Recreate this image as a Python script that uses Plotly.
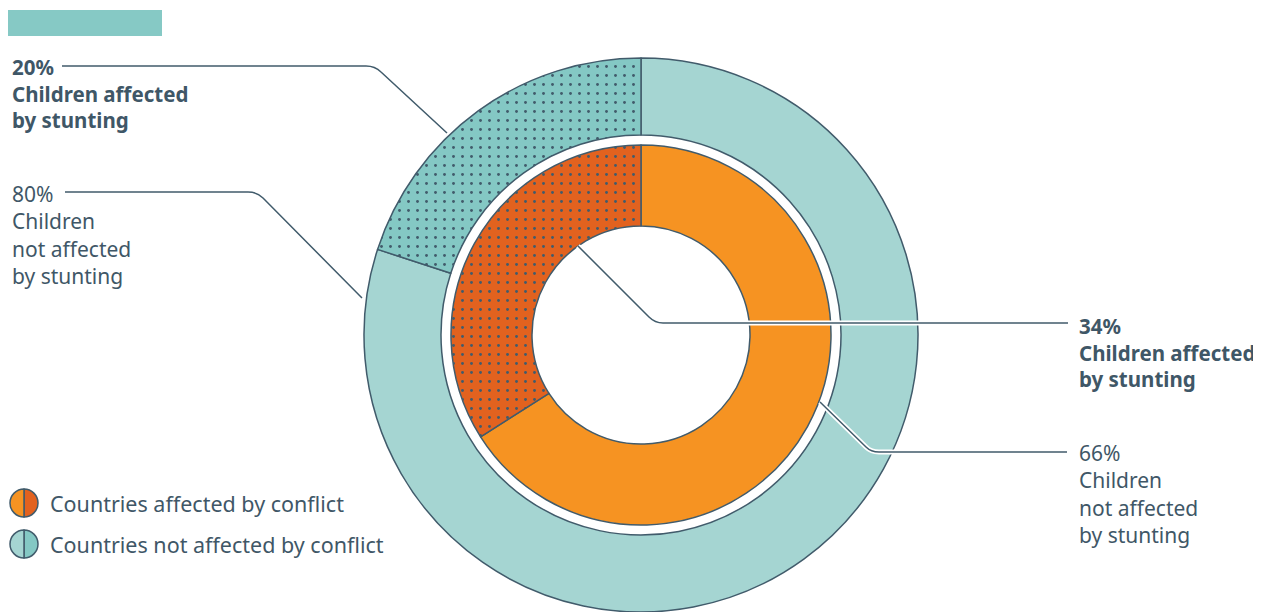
import plotly.graph_objects as go

# page body has an 8px margin, so the figure is drawn 8px in from the window edge
OFF = 8
W, H = 1261 - OFF, 612 - OFF

# data
stunting_labels = ["Children affected by stunting", "Children not affected by stunting"]
not_conflict_values = [20, 80]   # outer ring
conflict_values     = [34, 66]   # inner ring
legend_labels = ["Countries affected by conflict", "Countries not affected by conflict"]

INK       = "#415b6b"
TEXT      = "#3f5767"
TEAL_LT   = "#a5d5d2"
TEAL_DK   = "#84c8c4"
ORANGE    = "#f69322"
ORANGE_DK = "#e2621f"
FONT = "Noto Sans"


def px(x):
    return (x - OFF) / W


def py(y):
    return 1 - (y - OFF) / H


def dom(cx, cy, r):
    return dict(x=[px(cx - r), px(cx + r)], y=[py(cy + r), py(cy - r)])


def pct_label(v, label, bold):
    head, tail = label.split(" by ")
    if "not" in head:
        lines = [f"{v}%", "Children", "not affected", "by " + tail]
    else:
        lines = [f"{v}%", head, "by " + tail]
    txt = "<br>".join(lines)
    return f"<b>{txt}</b>" if bold else txt


def ring(values, colors, hole, r):
    # first slice (the stunted share) sits to the left of 12 o'clock
    return go.Pie(
        values=values[::-1], labels=stunting_labels[::-1],
        sort=False, direction="clockwise", rotation=0,
        hole=hole, textinfo="none", showlegend=False,
        domain=dom(CX, CY, r),
        marker=dict(
            colors=colors[::-1],
            line=dict(color=INK, width=1.5),
            pattern=dict(shape=["", "."], fgcolor=INK, bgcolor=colors[::-1],
                         size=9, solidity=0.08),
        ),
    )


CX, CY = 641, 335

fig = go.Figure()
fig.add_trace(ring(not_conflict_values, [TEAL_DK, TEAL_LT], 200 / 277, 277))
fig.add_trace(ring(conflict_values, [ORANGE_DK, ORANGE], 109 / 190, 190))

# legend swatches: half light / half dark circles
for (cy, light, dark) in [(503, ORANGE, ORANGE_DK), (544, TEAL_LT, TEAL_DK)]:
    fig.add_trace(go.Pie(
        values=[1, 1], sort=False, direction="clockwise", rotation=0,
        textinfo="none", showlegend=False, hoverinfo="skip",
        domain=dom(24, cy, 14),
        marker=dict(colors=[dark, light], line=dict(color=INK, width=1.5)),
    ))

# leader lines (pixel paths -> paper)
leaders = [
    [(62, 66), (366, 66), (375, 66), (381, 72), (447, 133)],
    [(65, 192), (248, 192), (257, 192), (263, 198), (362, 298)],
    [(578, 246), (649, 317), (655, 323), (663, 323), (1068, 323)],
    [(820, 402), (866, 447), (871, 452), (879, 452), (1067, 452)],
]

for pts in leaders:
    p = [(px(x), py(y)) for x, y in pts]
    path = (f"M {p[0][0]},{p[0][1]} L {p[1][0]},{p[1][1]} "
            f"Q {p[2][0]},{p[2][1]} {p[3][0]},{p[3][1]} L {p[4][0]},{p[4][1]}")
    fig.add_shape(type="path", path=path, xref="paper", yref="paper",
                  line=dict(color="white", width=5), layer="above")
    fig.add_shape(type="path", path=path, xref="paper", yref="paper",
                  line=dict(color=INK, width=1.5), layer="above")

# header bar
fig.add_shape(type="rect", xref="paper", yref="paper",
              x0=px(7), x1=px(162), y0=py(36), y1=py(10),
              fillcolor="#86c9c5", line=dict(width=0), layer="above")

labels = [
    (10, 94, not_conflict_values[0], stunting_labels[0], True),
    (10, 234.5, not_conflict_values[1], stunting_labels[1], False),
    (1077, 352.5, conflict_values[0], stunting_labels[0], True),
    (1077, 494, conflict_values[1], stunting_labels[1], False),
]
for x, y, v, lab, bold in labels:
    fig.add_annotation(
        x=px(x), y=py(y), xref="paper", yref="paper",
        xanchor="left", yanchor="middle", align="left", showarrow=False,
        text=pct_label(v, lab, bold),
        font=dict(family=FONT, size=21 if not bold else 20.5, color=TEXT),
    )

for y, lab in zip([503, 544], legend_labels):
    fig.add_annotation(
        x=px(48), y=py(y), xref="paper", yref="paper",
        xanchor="left", yanchor="middle", showarrow=False,
        text=lab, font=dict(family=FONT, size=21.5, color=TEXT),
    )

fig.update_layout(
    width=W, height=H,
    margin=dict(l=0, r=0, t=0, b=0),
    paper_bgcolor="white", plot_bgcolor="white",
    font=dict(family=FONT, color=TEXT),
)

fig.write_html("out.html")
